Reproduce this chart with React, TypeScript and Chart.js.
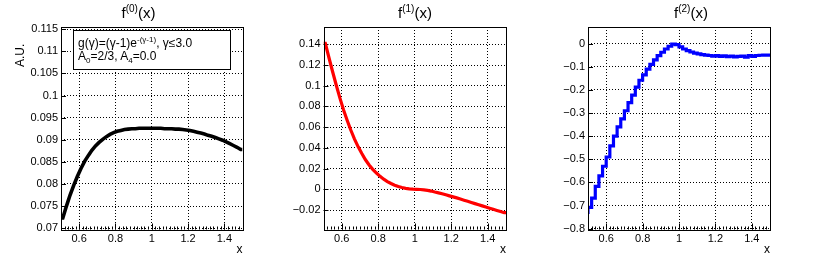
import React, { useEffect, useRef } from "react";
import { Chart, registerables } from "chart.js";

Chart.register(...registerables);

// ---------------- data ----------------
const xMin = 0.5;
const xMax = 1.5;
const binWidth = 0.02;

const binCenters = [
  0.51, 0.53, 0.55, 0.57, 0.59, 0.61, 0.63, 0.65, 0.67, 0.69,
  0.71, 0.73, 0.75, 0.77, 0.79, 0.81, 0.83, 0.85, 0.87, 0.89,
  0.91, 0.93, 0.95, 0.97, 0.99, 1.01, 1.03, 1.05, 1.07, 1.09,
  1.11, 1.13, 1.15, 1.17, 1.19, 1.21, 1.23, 1.25, 1.27, 1.29,
  1.31, 1.33, 1.35, 1.37, 1.39, 1.41, 1.43, 1.45, 1.47, 1.49,
];

const f0Values = [
  0.0723, 0.075, 0.0775, 0.0797, 0.0817, 0.0835, 0.0851, 0.0864, 0.0876, 0.0886,
  0.0894, 0.0901, 0.0907, 0.0912, 0.0916, 0.0919, 0.0921, 0.0923, 0.0924, 0.0925,
  0.0925, 0.0926, 0.0926, 0.0926, 0.0926, 0.0926, 0.0926, 0.0926, 0.0925, 0.0925,
  0.0925, 0.0924, 0.0924, 0.0923, 0.0922, 0.0921, 0.0919, 0.0917, 0.0915, 0.0913,
  0.091, 0.0908, 0.0905, 0.0902, 0.0899, 0.0895, 0.0891, 0.0887, 0.0883, 0.0878,
];

const f1Values = [
  0.141, 0.127, 0.1135, 0.1005, 0.088, 0.0765, 0.0665, 0.057, 0.0485, 0.041,
  0.0345, 0.0285, 0.0235, 0.0193, 0.0157, 0.0125, 0.0098, 0.0075, 0.0056, 0.004,
  0.0027, 0.0017, 0.0009, 0.0004, 0.0001, 0.0, -0.0002, -0.0006, -0.0011, -0.0017,
  -0.0026, -0.0034, -0.0043, -0.0053, -0.0063, -0.0073, -0.0083, -0.0094, -0.0105, -0.0116,
  -0.0127, -0.0138, -0.0149, -0.016, -0.0171, -0.0182, -0.0193, -0.0204, -0.0215, -0.0226,
];

const f2Values = [
  -0.737, -0.708, -0.668, -0.617, -0.572, -0.53, -0.49, -0.442, -0.4, -0.36,
  -0.325, -0.29, -0.255, -0.222, -0.188, -0.158, -0.135, -0.11, -0.089, -0.07,
  -0.052, -0.037, -0.023, -0.011, -0.002, -0.004, -0.014, -0.023, -0.03, -0.036,
  -0.041, -0.044, -0.047, -0.049, -0.051, -0.054, -0.052, -0.055, -0.053, -0.056,
  -0.054, -0.057, -0.055, -0.054, -0.058, -0.052, -0.055, -0.051, -0.05, -0.049,
];

const xTickLabels = ["0.6", "0.8", "1", "1.2", "1.4"];
const f0TickLabels = ["0.07", "0.075", "0.08", "0.085", "0.09", "0.095", "0.1", "0.105", "0.11", "0.115"];
const f1TickLabels = ["\u22120.02", "0", "0.02", "0.04", "0.06", "0.08", "0.1", "0.12", "0.14"];
const f2TickLabels = ["\u22120.8", "\u22120.7", "\u22120.6", "\u22120.5", "\u22120.4", "\u22120.3", "\u22120.2", "\u22120.1", "0"];

// ---------------- layout / style ----------------
const W = 830;
const H = 258;
const YW = 40;
const XH = 20;
const FONT = "'Liberation Sans', Arial, Helvetica, sans-serif";

const labelValue = (s: string) => parseFloat(s.replace("\u2212", "-"));

type Panel = {
  values: number[];
  ticks: string[];
  color: string;
  width: number;
  yMin: number;
  yMax: number;
  area: { left: number; right: number; top: number; bottom: number };
  stepped: boolean;
};

const panels: Panel[] = [
  { values: f0Values, ticks: f0TickLabels, color: "#000000", width: 3.6, yMin: 0.0697, yMax: 0.1155,
    area: { left: 61, right: 242.5, top: 27, bottom: 229.5 }, stepped: false },
  { values: f1Values, ticks: f1TickLabels, color: "#ff0000", width: 3.2, yMin: -0.0388, yMax: 0.1567,
    area: { left: 323.5, right: 506, top: 27, bottom: 229.5 }, stepped: false },
  { values: f2Values, ticks: f2TickLabels, color: "#0000ff", width: 3.2, yMin: -0.8035, yMax: 0.0722,
    area: { left: 588, right: 770, top: 27, bottom: 229.5 }, stepped: true },
];

const framePlugin = {
  id: "rootFrame",
  beforeDatasetsDraw(chart: any) {
    const { ctx, chartArea: a, scales } = chart;
    const xs = scales.x;
    const ys = scales.y;
    ctx.save();
    ctx.strokeStyle = "#000";
    ctx.lineWidth = 1;
    ctx.beginPath();
    xs.ticks.forEach((t: any) => {
      const p = Math.round(xs.getPixelForValue(t.value)) + 0.5;
      ctx.moveTo(p, a.bottom);
      ctx.lineTo(p, a.bottom - 6);
    });
    const n = Math.round((xMax - xMin) / binWidth);
    for (let i = 1; i < n; i++) {
      const p = Math.round(xs.getPixelForValue(xMin + i * binWidth)) + 0.5;
      ctx.moveTo(p, a.bottom);
      ctx.lineTo(p, a.bottom - 3);
    }
    ys.ticks.forEach((t: any) => {
      const p = Math.round(ys.getPixelForValue(t.value)) + 0.5;
      ctx.moveTo(a.left, p);
      ctx.lineTo(a.left + 5, p);
    });
    ctx.stroke();
    ctx.restore();
  },
  afterDraw(chart: any) {
    const { ctx, chartArea: a } = chart;
    ctx.save();
    ctx.strokeStyle = "#000";
    ctx.lineWidth = 1;
    ctx.strokeRect(Math.round(a.left) + 0.5, Math.round(a.top) + 0.5,
      Math.round(a.right) - Math.round(a.left), Math.round(a.bottom) - Math.round(a.top));
    ctx.restore();
  },
};

function buildData(p: Panel) {
  if (p.stepped) {
    const pts = binCenters.map((c, i) => ({ x: c - binWidth / 2, y: p.values[i] }));
    pts.push({ x: xMax, y: p.values[p.values.length - 1] });
    return pts;
  }
  const pts = binCenters.map((c, i) => ({ x: c, y: p.values[i] }));
  pts.unshift({ x: xMin, y: p.values[0] });
  pts.push({ x: xMax, y: p.values[p.values.length - 1] });
  return pts;
}

function PanelCanvas({ p }: { p: Panel }) {
  const ref = useRef<HTMLCanvasElement | null>(null);
  useEffect(() => {
    if (!ref.current) return;
    const tickFont = { family: FONT, size: 11 };
    const chart = new Chart(ref.current, {
      type: "line",
      data: {
        datasets: [
          {
            data: buildData(p),
            borderColor: p.color,
            borderWidth: p.width,
            pointRadius: 0,
            fill: false,
            tension: 0,
            stepped: p.stepped ? "after" : false,
          } as any,
        ],
      },
      options: {
        animation: false,
        responsive: false,
        devicePixelRatio: 1,
        events: [],
        layout: {
          padding: {
            left: p.area.left - YW,
            right: W - p.area.right,
            top: p.area.top,
            bottom: H - p.area.bottom - XH,
          },
        },
        plugins: { legend: { display: false }, tooltip: { enabled: false }, title: { display: false } },
        scales: {
          x: {
            type: "linear",
            min: xMin,
            max: xMax,
            afterFit: (s: any) => { s.height = XH; },
            afterBuildTicks: (s: any) => { s.ticks = xTickLabels.map((l) => ({ value: labelValue(l), label: l })); },
            ticks: {
              color: "#000",
              font: tickFont,
              padding: 3,
              maxRotation: 0,
              autoSkip: false,
              callback: (_v: any, i: number) => xTickLabels[i],
            },
            grid: { color: "#000", lineWidth: 1, drawTicks: false },
            border: { display: false, dash: [1, 2] },
          },
          y: {
            type: "linear",
            min: p.yMin,
            max: p.yMax,
            afterFit: (s: any) => { s.width = YW; },
            afterBuildTicks: (s: any) => { s.ticks = p.ticks.map((l) => ({ value: labelValue(l), label: l })); },
            ticks: {
              color: "#000",
              font: tickFont,
              padding: 3,
              autoSkip: false,
              callback: (_v: any, i: number) => p.ticks[i],
            },
            grid: { color: "#000", lineWidth: 1, drawTicks: false },
            border: { display: false, dash: [1, 2] },
          },
        },
      },
      plugins: [framePlugin],
    } as any);
    return () => chart.destroy();
  }, [p]);
  return (
    <canvas
      ref={ref}
      width={W}
      height={H}
      style={{ position: "absolute", left: 0, top: 0, width: W, height: H }}
    />
  );
}

const titleStyle = (cx: number): React.CSSProperties => ({
  position: "absolute",
  left: cx - 60,
  width: 120,
  top: 4,
  textAlign: "center",
  fontFamily: FONT,
  fontSize: 15,
  lineHeight: "17px",
  color: "#000",
  whiteSpace: "nowrap",
});

const supStyle: React.CSSProperties = { fontSize: 10, position: "relative", top: -6 };
const subStyle: React.CSSProperties = { fontSize: 8, position: "relative", top: 3 };

const xLabelStyle = (right: number): React.CSSProperties => ({
  position: "absolute",
  left: right - 30,
  width: 30,
  top: 242,
  textAlign: "right",
  fontFamily: FONT,
  fontSize: 12,
  lineHeight: "14px",
  color: "#000",
});

export default function App() {
  useEffect(() => {
    document.body.style.margin = "0";
  }, []);
  return (
    <div style={{ position: "relative", width: W, height: H, background: "#fff", overflow: "hidden" }}>
      {panels.map((p, i) => (
        <PanelCanvas key={i} p={p} />
      ))}
      <div style={titleStyle(138.5)}>f<span style={supStyle}>(0)</span>(x)</div>
      <div style={titleStyle(415)}>f<span style={supStyle}>(1)</span>(x)</div>
      <div style={titleStyle(691)}>f<span style={supStyle}>(2)</span>(x)</div>
      <div style={xLabelStyle(242.5)}>x</div>
      <div style={xLabelStyle(506)}>x</div>
      <div style={xLabelStyle(770)}>x</div>
      <div
        style={{
          position: "absolute",
          left: 20 - 30,
          top: 37 - 7,
          width: 60,
          height: 14,
          lineHeight: "14px",
          textAlign: "right",
          fontFamily: FONT,
          fontSize: 12,
          color: "#000",
          transform: "rotate(-90deg)",
          transformOrigin: "50% 50%",
          whiteSpace: "nowrap",
        }}
      >
        <span style={{ display: "inline-block", width: 60, textAlign: "left" }}>A.U.</span>
      </div>
      <div
        style={{
          position: "absolute",
          left: 73,
          top: 30,
          width: 156,
          height: 38,
          border: "1px solid #000",
          background: "#fff",
          fontFamily: FONT,
          fontSize: 12,
          color: "#000",
          whiteSpace: "nowrap",
        }}
      >
        <div style={{ position: "absolute", left: 4, top: 5, lineHeight: "14px" }}>
          g(γ)=(γ-1)e<span style={{ fontSize: 8, position: "relative", top: -5 }}>-(γ-1)</span>, γ≤3.0
        </div>
        <div style={{ position: "absolute", left: 4, top: 18, lineHeight: "14px" }}>
          A<span style={subStyle}>0</span>=2/3, A<span style={subStyle}>4</span>=0.0
        </div>
      </div>
    </div>
  );
}
